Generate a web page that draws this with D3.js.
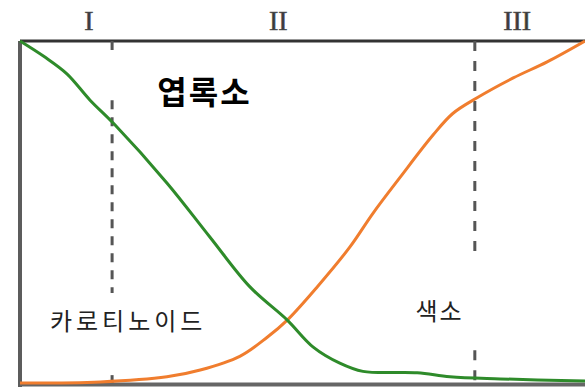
<!DOCTYPE html>
<html>
<head>
<meta charset="utf-8">
<script src="https://cdn.jsdelivr.net/npm/d3@7"></script>
<style>
  html, body { margin: 0; padding: 0; background: #fff; }
  svg { display: block; }
</style>
</head>
<body>
<div id="visbox"><svg width="585" height="387"></svg></div>
<script>
// values, x and y in percent of the plot frame
const chlorophyllX = [0, 4.4, 8.3, 12.4, 16.5, 26.0, 33.6, 40.7, 47.3, 51.9, 56.6, 60.7, 70.3, 76.1, 85.0, 100];
const chlorophyllY = [100, 95.3, 90.4, 82.7, 76.0, 58.5, 42.7, 28.1, 18.4, 10.5, 5.8, 3.4, 3.0, 1.8, 1.2, 0.6];

const pigmentX = [0, 14.2, 26.0, 31.9, 38.9, 43.7, 47.3, 52.6, 58.4, 62.5, 67.3, 73.1, 76.6, 80.9, 87.3, 93.3, 100];
const pigmentY = [0, 0.3, 1.8, 3.8, 7.8, 13.3, 18.4, 28.1, 39.8, 49.7, 60.2, 72.5, 78.8, 83.4, 89.2, 93.9, 100];

const stageLabels = ["I", "II", "III"];
const stageLabelX = [12.2, 45.7, 88.0];

// stage boundaries and the visible pieces of each dashed line (y ranges)
const dividerX = [16.3, 80.5];
const dividerPieces = [
  [[100, 95], [82.7, 26.3], [2.3, 0]],
  [[100, 36], [9.6, 0]]
];

const seriesLabels = ["엽록소", "카로티노이드", "색소"];
const seriesLabelX = [24.3, 5.3, 70.0];
const seriesLabelY = [81.5, 15.5, 18.5];

const width = 585, height = 387;
const margin = { top: 41, right: 0, bottom: 4, left: 20 };

const svg = d3.select("#visbox").select("svg");

const x = d3.scaleLinear().domain([0, 100]).range([margin.left, width - margin.right]);
const y = d3.scaleLinear().domain([0, 100]).range([height - margin.bottom, margin.top]);

const toPoints = (xs, ys) => xs.map((v, i) => ({ x: v, y: ys[i] }));

const line = d3.line()
  .x(d => x(d.x))
  .y(d => y(d.y))
  .curve(d3.curveCatmullRom.alpha(0.5));

// frame
svg.append("line")
  .attr("x1", x(0)).attr("x2", x(100))
  .attr("y1", y(100)).attr("y2", y(100))
  .attr("stroke", "#333").attr("stroke-width", 3);
svg.append("line")
  .attr("x1", x(0)).attr("x2", x(0))
  .attr("y1", y(100)).attr("y2", height)
  .attr("stroke", "#5c5c5c").attr("stroke-width", 4);
svg.append("line")
  .attr("x1", x(0)).attr("x2", x(100))
  .attr("y1", y(0) + 1.5).attr("y2", y(0) + 1.5)
  .attr("stroke", "#666").attr("stroke-width", 4);

// dashed stage boundaries
dividerX.forEach((dx, i) => {
  svg.append("g").selectAll("line")
    .data(dividerPieces[i])
    .join("line")
    .attr("x1", x(dx)).attr("x2", x(dx))
    .attr("y1", d => y(d[0])).attr("y2", d => y(d[1]))
    .attr("stroke", "#555")
    .attr("stroke-width", 3)
    .attr("stroke-dasharray", i === 0 ? "9,8" : "10,10");
});

// curves
svg.append("path")
  .datum(toPoints(pigmentX, pigmentY))
  .attr("d", line)
  .attr("fill", "none")
  .attr("stroke", "#f07d2e")
  .attr("stroke-width", 3);

svg.append("path")
  .datum(toPoints(chlorophyllX, chlorophyllY))
  .attr("d", line)
  .attr("fill", "none")
  .attr("stroke", "#2e8b2a")
  .attr("stroke-width", 3);

// stage numerals
svg.append("g").selectAll("text")
  .data(stageLabels)
  .join("text")
  .attr("x", (d, i) => x(stageLabelX[i]))
  .attr("y", 30)
  .attr("text-anchor", "middle")
  .attr("font-family", "Liberation Serif, DejaVu Serif, serif")
  .attr("font-size", 28)
  .attr("fill", "#3a3a3a")
  .attr("stroke", "#555")
  .attr("stroke-width", 0.6)
  .text(d => d);

// series labels
svg.append("g").selectAll("text")
  .data(seriesLabels)
  .join("text")
  .attr("x", (d, i) => x(seriesLabelX[i]))
  .attr("y", (d, i) => y(seriesLabelY[i]))
  .attr("font-family", "Noto Sans CJK KR, sans-serif")
  .attr("font-size", (d, i) => i === 0 ? 32 : 24)
  .attr("font-weight", (d, i) => i === 0 ? 700 : 400)
  .attr("letter-spacing", (d, i) => i === 1 ? 4 : 2)
  .attr("fill", (d, i) => i === 0 ? "#000" : "#222")
  .text(d => d);
</script>
</body>
</html>
